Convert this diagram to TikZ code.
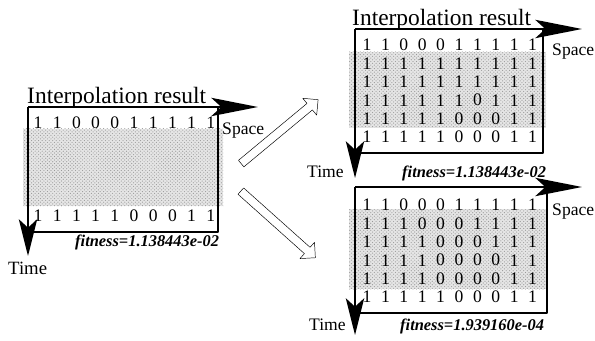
\documentclass[tikz,border=0pt]{standalone}
\usepackage{fontspec}
\setmainfont{Liberation Serif}
\usetikzlibrary{arrows.meta,patterns,shapes.arrows}

\tikzset{
	panel/.style={line width=2pt},
	axis/.style={line width=2pt,-{Stealth[length=14mm,width=5.5mm,inset=3mm]}},
	taxis/.style={line width=2pt,-{Stealth[length=11mm,width=5.5mm,inset=2.5mm]}},
	dotfill/.style={preaction={fill=black!10},pattern=crosshatch dots,pattern color=black!40},
	bitnode/.style={font=\fontsize{15}{15}\selectfont,inner sep=0pt},
	lbl/.style={font=\fontsize{15}{15}\selectfont,inner sep=0pt,anchor=west},
	headline/.style={font=\fontsize{20}{20}\selectfont,inner sep=0pt,anchor=base west},
	fitlbl/.style={font=\fontsize{14}{14}\selectfont\bfseries\itshape,inner sep=0pt,anchor=west},
	blockarrow/.style={single arrow,draw,thin,minimum height=3cm,inner sep=0.12cm,
		single arrow head extend=0.2cm,single arrow head indent=0cm}
}
% one row of bits: x0, y, dx, name, list
\newcommand{\bitrow}[5]{%
	\foreach \b [count=\i from 0] in {#5}
		\node[bitnode] (#4-\i) at ({#1+#3*\i},#2) {\b};}

\begin{document}
\begin{tikzpicture}[x=0.03cm,y=-0.03cm,line join=round]
	\useasboundingbox (0,0) rectangle (595,341);
	% left panel
	\coordinate (L) at (28,107);
	\fill[dotfill] (23,129) rectangle (223,206);
	\draw[panel] (L) -- (218,107) -- (218,232) -- (28,232);
	\coordinate (Lx) at (258,107);
	\coordinate (Ly) at (28,256);
	\draw[axis] (L) -- (Lx);
	\draw[taxis] (L) -- (Ly);
	\node[headline] (ltitle) at (27,104) {Interpolation result};
	\node[lbl] (lspace) at (222,131) {Space};
	\node[fitlbl] (lfit) at (75,242) {fitness=1.138443e-02};
	\node[lbl,font=\fontsize{16}{16}\selectfont] (ltime) at (8,268) {Time};
	\bitrow{38}{123}{19.2}{l1}{1,1,0,0,0,1,1,1,1,1}
	\bitrow{38}{216}{19.2}{l2}{1,1,1,1,1,0,0,0,1,1}

	% hollow arrows
	\node[blockarrow,rotate=39.7] (up) at (278,133) {};
	\node[blockarrow,rotate=-41.8] (down) at (276.5,223) {};

	% right top panel
	\coordinate (T) at (355,29);
	\fill[dotfill] (349,52) rectangle (546,128);
	\draw[panel] (T) -- (543,29) -- (543,153) -- (355,153);
	\coordinate (Tx) at (582,29);
	\coordinate (Ty) at (355,178);
	\draw[axis] (T) -- (Tx);
	\draw[taxis] (T) -- (Ty);
	\node[headline] (ttitle) at (352,26) {Interpolation result};
	\node[lbl] (tspace) at (552,52) {Space};
	\node[lbl] (ttime) at (307,172) {Time};
	\node[fitlbl] (tfit) at (402,173) {fitness=1.138443e-02};
	\bitrow{367}{45}{18.4}{t1}{1,1,0,0,0,1,1,1,1,1}
	\bitrow{367}{63.4}{18.4}{t2}{1,1,1,1,1,1,1,1,1,1}
	\bitrow{367}{81.8}{18.4}{t3}{1,1,1,1,1,1,1,1,1,1}
	\bitrow{367}{100.2}{18.4}{t4}{1,1,1,1,1,1,0,1,1,1}
	\bitrow{367}{118.6}{18.4}{t5}{1,1,1,1,1,0,0,0,1,1}
	\bitrow{367}{137}{18.4}{t6}{1,1,1,1,1,0,0,0,1,1}

	% right bottom panel
	\coordinate (B) at (355,187);
	\fill[dotfill] (349,209) rectangle (547,289);
	\draw[panel] (B) -- (547,187) -- (547,313) -- (355,313);
	\coordinate (Bx) at (582,187);
	\coordinate (By) at (355,335);
	\draw[axis] (B) -- (Bx);
	\draw[taxis] (B) -- (By);
	\node[lbl] (bspace) at (552,212) {Space};
	\node[lbl] (btime) at (309,325) {Time};
	\node[fitlbl] (bfit) at (400,326) {fitness=1.939160e-04};
	\bitrow{367}{205}{18.4}{b1}{1,1,0,0,0,1,1,1,1,1}
	\bitrow{367}{223.4}{18.4}{b2}{1,1,1,0,0,0,1,1,1,1}
	\bitrow{367}{241.8}{18.4}{b3}{1,1,1,1,0,0,0,1,1,1}
	\bitrow{367}{260.2}{18.4}{b4}{1,1,1,1,0,0,0,0,1,1}
	\bitrow{367}{278.6}{18.4}{b5}{1,1,1,1,0,0,0,0,1,1}
	\bitrow{367}{297}{18.4}{b6}{1,1,1,1,1,0,0,0,1,1}
\end{tikzpicture}
\end{document}
